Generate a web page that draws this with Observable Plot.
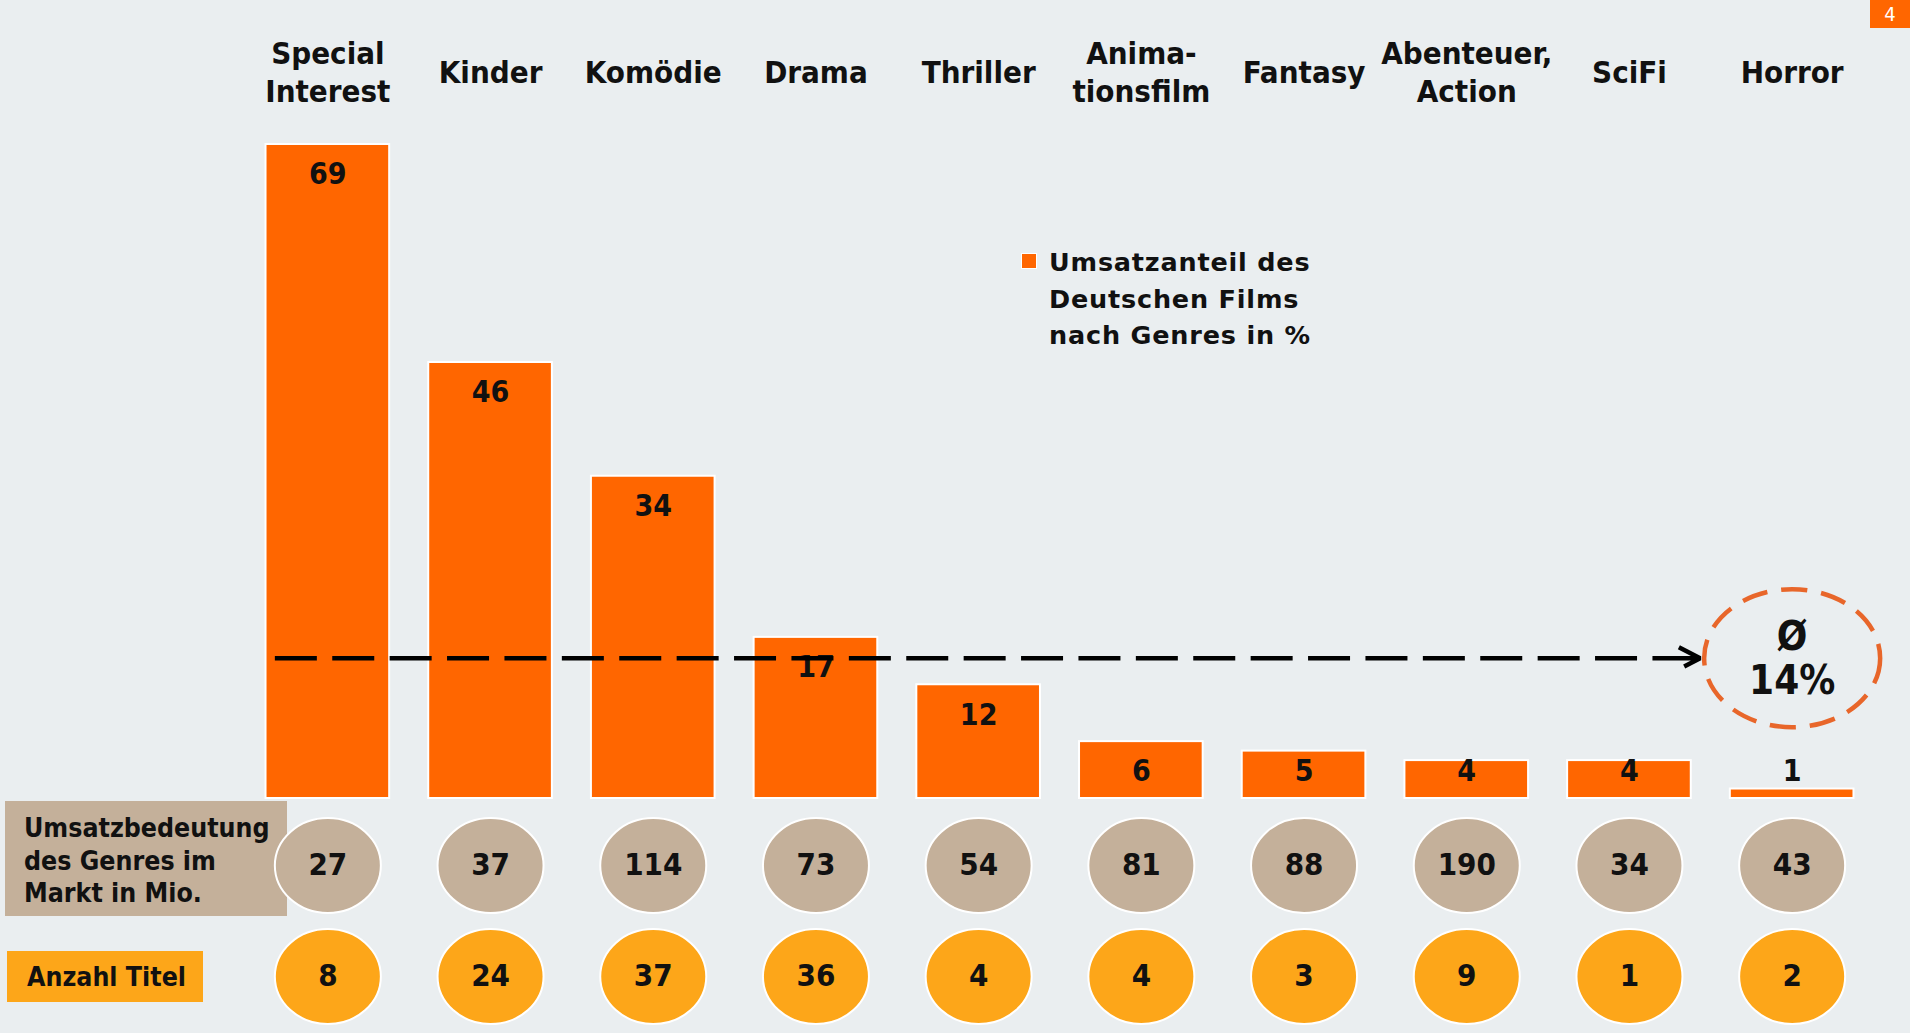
<!DOCTYPE html>
<html><head><meta charset="utf-8">
<script src="https://cdn.jsdelivr.net/npm/d3@7"></script>
<script src="https://cdn.jsdelivr.net/npm/@observablehq/plot@0.6"></script>
<style>
body{margin:0;background:#EAEEF0;}
#wrap{position:relative;width:1910px;height:1033px;overflow:hidden;background:#EAEEF0;}
.cond{font-family:"DejaVu Sans Condensed","DejaVu Sans",sans-serif;font-stretch:condensed;font-weight:bold;color:#111;}
#boxMarket{position:absolute;left:5px;top:801px;width:282px;height:115px;background:#C4B09A;box-sizing:border-box;padding:11px 0 0 19px;font-size:26.5px;line-height:32.5px;white-space:pre;}
#boxTitles{position:absolute;left:7px;top:951px;width:196px;height:51px;background:#FDA619;box-sizing:border-box;padding-left:20px;font-size:26.5px;line-height:51px;}
#legSq{position:absolute;left:1021px;top:253px;width:14px;height:14px;background:#FF6600;border:1px solid #fff;}
#legTx{position:absolute;left:1049px;top:244px;font-family:"DejaVu Sans",sans-serif;font-weight:bold;font-size:25.5px;letter-spacing:0.8px;line-height:36.5px;color:#111;white-space:pre;}
#page{position:absolute;left:1870px;top:0;width:40px;height:28px;background:#FF6600;color:#fff;font-size:20px;font-weight:normal;text-align:center;line-height:28px;}
#chart{position:absolute;left:0;top:0;}
</style></head>
<body><div id="wrap">
<div id="boxMarket" class="cond"></div>
<div id="boxTitles" class="cond"></div>
<div id="legSq"></div><div id="legTx"></div>
<div id="page" class="cond">4</div>
<div id="chart"></div>
</div>
<script>
const genres = ["Special Interest","Kinder","Komödie","Drama","Thriller","Animationsfilm","Fantasy","Abenteuer, Action","SciFi","Horror"];
const tickLabels = ["Special\nInterest","Kinder","Komödie","Drama","Thriller","Anima-\ntionsfilm","Fantasy","Abenteuer,\nAction","SciFi","Horror"];
const shareGerman = [69,46,34,17,12,6,5,4,4,1];
const marketMio = [27,37,114,73,54,81,88,190,34,43];
const titleCount = [8,24,37,36,4,4,3,9,1,2];
const avgShare = 14;
const avgLineLevel = 14.8;
const legendText = "Umsatzanteil des\nDeutschen Films\nnach Genres in %";
const rowMarketLabel = "Umsatzbedeutung\ndes Genres im\nMarkt in Mio.";
const rowTitlesLabel = "Anzahl Titel";

document.getElementById("legTx").textContent = legendText;
document.getElementById("boxMarket").textContent = rowMarketLabel;
document.getElementById("boxTitles").textContent = rowTitlesLabel;

const data = genres.map((g, i) => ({genre: g, label: tickLabels[i], share: shareGerman[i], market: marketMio[i], titles: titleCount[i]}));
const avgData = [{from: genres[0], to: genres[genres.length - 1], level: avgLineLevel, avg: avgShare}];

const makeEllipse = ratio => ({
  draw(ctx, size) {
    const ry = Math.sqrt(size / Math.PI), rx = ry * ratio, k = 0.5522847498;
    ctx.moveTo(rx, 0);
    ctx.bezierCurveTo(rx, k * ry, k * rx, ry, 0, ry);
    ctx.bezierCurveTo(-k * rx, ry, -rx, k * ry, -rx, 0);
    ctx.bezierCurveTo(-rx, -k * ry, -k * rx, -ry, 0, -ry);
    ctx.bezierCurveTo(k * rx, -ry, rx, -k * ry, rx, 0);
    ctx.closePath();
  }
});

const condFont = '"DejaVu Sans Condensed","DejaVu Sans",sans-serif';
const dashPattern = Array(24).fill("42,15.4").join(",") + ",400";

const chart = Plot.plot({
  width: 1910, height: 1033,
  marginLeft: 246, marginRight: 37, marginTop: 144, marginBottom: 235,
  style: {background: "transparent", fontFamily: condFont, fontWeight: "bold", color: "#111", fontStretch: "condensed"},
  x: {type: "band", domain: genres, paddingInner: 0.24, paddingOuter: 0.12, round: false, axis: null},
  y: {domain: [0, 69], axis: null},
  marks: [
    Plot.barY(data, {x: "genre", y: "share", fill: "#FF6600", stroke: "white", strokeWidth: 2}),
    Plot.text(data, {x: "genre", y: d => Math.max(d.share - 3.2, 2.9), text: d => String(d.share), fontSize: 30, fontWeight: "bold", fontFamily: condFont, fill: "#111"}),
    Plot.text(data, {x: "genre", text: "label", frameAnchor: "top", dy: -74, lineAnchor: "middle", lineHeight: 1.23, fontSize: 31, fontWeight: "bold", fontFamily: condFont, fill: "#111"}),
    Plot.dot(data, {x: "genre", frameAnchor: "bottom", dy: 67, r: 47.5, symbol: makeEllipse(53 / 47.5), fill: "#C4B09A", stroke: "white", strokeWidth: 2}),
    Plot.text(data, {x: "genre", frameAnchor: "bottom", dy: 67, lineAnchor: "middle", text: d => String(d.market), fontSize: 31, fontWeight: "bold", fontFamily: condFont, fill: "#111"}),
    Plot.dot(data, {x: "genre", frameAnchor: "bottom", dy: 178, r: 47.5, symbol: makeEllipse(53 / 47.5), fill: "#FDA619", stroke: "white", strokeWidth: 2}),
    Plot.text(data, {x: "genre", frameAnchor: "bottom", dy: 178, lineAnchor: "middle", text: d => String(d.titles), fontSize: 31, fontWeight: "bold", fontFamily: condFont, fill: "#111"}),
    Plot.arrow(avgData, {x1: "from", x2: "to", y1: "level", y2: "level", stroke: "#000", strokeWidth: 4.5, strokeLinecap: "butt", strokeLinejoin: "miter", strokeDasharray: dashPattern, headLength: 8, headAngle: 55, insetStart: -53, insetEnd: 92}),
    Plot.dot(avgData, {x: "to", y: "level", r: 69, symbol: makeEllipse(88 / 69), fill: "none", stroke: "#E8662A", strokeWidth: 4.5, strokeDasharray: "26,14"}),
    Plot.text(avgData, {x: "to", y: "level", text: d => "Ø\n" + d.avg + "%", lineAnchor: "middle", lineHeight: 1.1, fontSize: 40, fontWeight: "bold", fontFamily: "DejaVu Sans, sans-serif", fill: "#111"})
  ]
});
document.getElementById("chart").appendChild(chart);
</script>
</body></html>
